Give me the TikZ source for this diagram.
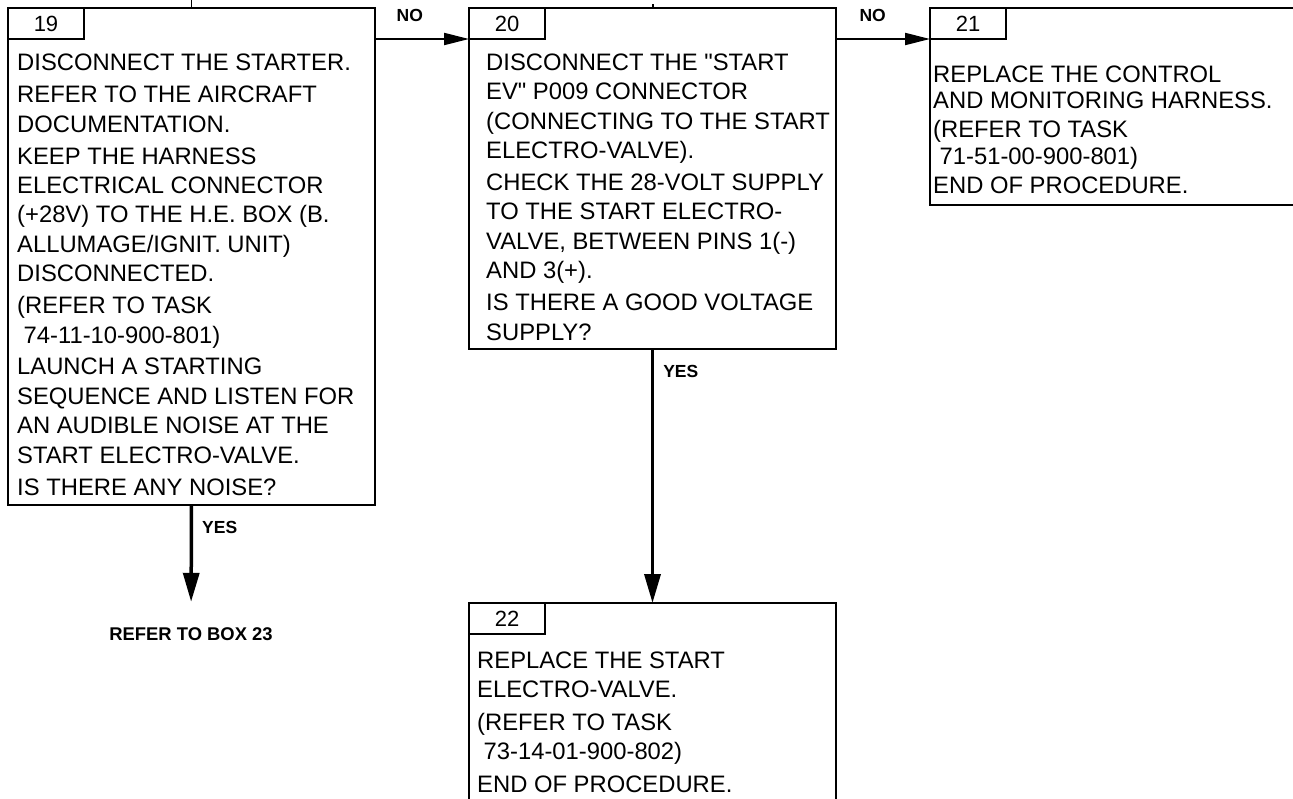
\documentclass[tikz,border=0pt]{standalone}
\usepackage{fontspec}
\setmainfont{Liberation Sans}[Ligatures=TeXOff]
\usetikzlibrary{arrows.meta, positioning}

\begin{document}
\begin{tikzpicture}[
		x=1pt, y=-1pt,
		stepbox/.style={draw, line width=2.5pt, anchor=north west, outer sep=0pt, inner sep=0pt, minimum width=367pt},
		numtab/.style={draw, line width=2.5pt, anchor=north west, outer sep=0pt, inner sep=0pt,
			minimum width=76pt, minimum height=31pt, font=\fontsize{22}{24}\selectfont},
		bodytext/.style={anchor=base west, align=left, inner sep=0pt, font=\fontsize{23.8}{29.4}\selectfont},
		answer/.style={inner sep=0pt, font=\fontsize{17.5}{20}\selectfont\bfseries},
		harrow/.style={-{Triangle[length=25pt, width=12pt]}, line width=2pt},
		varrow/.style={-{Triangle[length=29pt, width=16pt]}, line width=3.5pt}
	]
		\useasboundingbox (0,0) rectangle (1293,798);
		\clip (0,0) rectangle (1293,798);
		\node[stepbox, minimum height=497pt] (box19) at (8,8) {};
		\node[stepbox, minimum height=341pt, right=94pt of box19.north east, anchor=north west] (box20) {};
		\node[stepbox, minimum height=197pt, minimum width=380pt, right=94pt of box20.north east, anchor=north west] (box21) {};
		\node[stepbox, minimum height=230pt, below=254pt of box20.south west, anchor=north west] (box22) {};
		\node[numtab] (tab19) at (box19.north west) {19};
		\node[numtab] (tab20) at (box20.north west) {20};
		\node[numtab] (tab21) at (box21.north west) {21};
		\node[numtab] (tab22) at (box22.north west) {22};
		\node[bodytext] (text19) at ([xshift=9pt, yshift=-487pt]box19.north west)
			{DISCONNECT THE STARTER.\\[2.5pt]
			REFER TO THE AIRCRAFT\\ DOCUMENTATION.\\[2.5pt]
			KEEP THE HARNESS\\ ELECTRICAL CONNECTOR\\ (+28V) TO THE H.E. BOX (B.\\ ALLUMAGE/IGNIT. UNIT)\\ DISCONNECTED.\\[2.5pt]
			(REFER TO TASK\\ \hspace*{6.5pt}74-11-10-900-801)\\[2.5pt]
			LAUNCH A STARTING\\ SEQUENCE AND LISTEN FOR\\ AN AUDIBLE NOISE AT THE\\ START ELECTRO-VALVE.\\[2.5pt]
			IS THERE ANY NOISE?};
		\node[bodytext] (text20) at ([xshift=17pt, yshift=-332pt]box20.north west)
			{DISCONNECT THE "START\\ EV" P009 CONNECTOR\\ (CONNECTING TO THE START\\ ELECTRO-VALVE).\\[2.5pt]
			CHECK THE 28-VOLT SUPPLY\\ TO THE START ELECTRO-\\ VALVE, BETWEEN PINS 1(-)\\ AND 3(+).\\[2.5pt]
			IS THERE A GOOD VOLTAGE\\ SUPPLY?};
		\node[bodytext, font=\fontsize{23.8}{26.5}\selectfont] (text21) at ([xshift=3pt, yshift=-185pt]box21.north west)
			{REPLACE THE CONTROL\\ AND MONITORING HARNESS.\\[2.5pt]
			(REFER TO TASK\\ \hspace*{6.5pt}71-51-00-900-801)\\[2.5pt]
			END OF PROCEDURE.};
		\node[bodytext] (text22) at ([xshift=8pt, yshift=-189pt]box22.north west)
			{REPLACE THE START\\ ELECTRO-VALVE.\\[3pt]
			(REFER TO TASK\\ \hspace*{6.5pt}73-14-01-900-802)\\[3pt]
			END OF PROCEDURE.};
		\node[answer, font=\fontsize{18.4}{20}\selectfont\bfseries] (ref23) at (191,634.5) {REFER TO BOX 23};
		\coordinate (from18) at (191.5,0);
		\coordinate (from19) at (652.5,4);
		\draw[line width=1pt] (from18) -- (box19.north);
		\draw[line width=2pt] (from19) -- (box20.north);
		\draw[harrow] (box19.east |- tab20.south west) -- (tab20.south west)
			node[answer, pos=0.37, above=16pt] (no19) {NO};
		\draw[harrow] (box20.east |- tab21.south west) -- (tab21.south west)
			node[answer, pos=0.39, above=16pt] (no20) {NO};
		\draw[varrow, shorten >=26pt] (box19.south) -- (ref23.north)
			node[answer, pos=0.18, right=9pt] (yes19) {YES};
		\draw[varrow] (box20.south) -- (box22.north)
			node[answer, pos=0.087, right=9pt] (yes20) {YES};
	\end{tikzpicture}
\end{document}
